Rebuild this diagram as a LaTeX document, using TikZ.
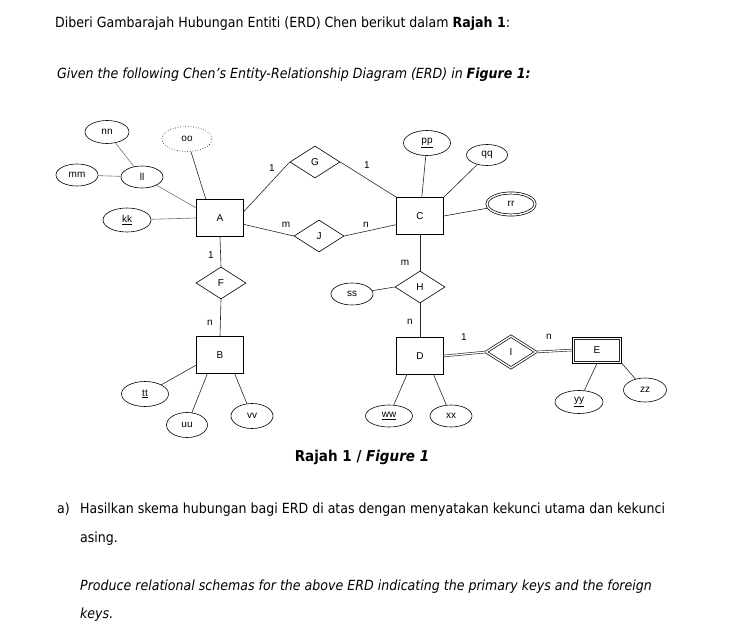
\documentclass[tikz,border=0pt]{standalone}
\usepackage{fontspec}
\setmainfont[FakeStretch=0.9]{DejaVu Sans}
\newfontfamily\erdfont{Liberation Sans}
\usetikzlibrary{shapes.geometric}

\begin{document}
\begin{tikzpicture}[
            x=1pt, y=-1pt,
            entitybox/.style={
                draw,
                line width=0.6pt,
                minimum width=47pt,
                minimum height=37pt,
                inner sep=0pt,
                font=\erdfont\fontsize{10}{11}\selectfont
            },
            weakbox/.style={
                entitybox,
                minimum width=49pt,
                minimum height=26pt
            },
            relbox/.style={
                entitybox,
                diamond,
                minimum width=50pt,
                minimum height=32pt
            },
            weakrel/.style={
                relbox,
                double,
                line width=0.7pt,
                double distance=1.4pt
            },
            attrib/.style={
                entitybox,
                ellipse,
                minimum width=44pt,
                minimum height=23pt
            },
            card/.style={
                inner sep=1pt,
                font=\erdfont\fontsize{10}{11}\selectfont
            },
            link/.style={
                draw=black!85,
                line width=0.6pt
            },
            textline/.style={
                anchor=base west,
                inner sep=0pt,
                font=\fontsize{14}{16}\selectfont
            }
        ]

        \useasboundingbox (0,0) rectangle (741,628);

        % --- Question text ---
        \node[textline] (intro) at (55,28)
            {Diberi Gambarajah Hubungan Entiti (ERD) Chen berikut dalam \textbf{Rajah 1}:};
        \node[textline] (introen) at (57,79)
            {\textit{Given the following Chen's Entity-Relationship Diagram (ERD) in \textbf{Figure 1:}}};

        % --- Entities ---
        \node[entitybox] (A) at (220,218) {A};
        \node[entitybox] (B) at (220,355) {B};
        \node[entitybox] (C) at (420,216) {C};
        \node[entitybox] (D) at (420,356) {D};
        \node[weakbox] (E) at (597,350) {E};
        \draw[link] ([xshift=2.2pt,yshift=-2.2pt]E.north west)
            rectangle ([xshift=-2.2pt,yshift=2.2pt]E.south east);

        % --- Relationships ---
        \node[relbox] (G) at (315,162) {G};
        \node[relbox] (J) at (319,236) {J};
        \node[relbox] (F) at (221,283) {F};
        \node[relbox] (H) at (420,287) {H};
        \node[weakrel] (I) at (511,352) {I};

        % --- Attributes ---
        \node[attrib] (nn) at (107,132) {nn};
        \node[attrib, dotted, minimum width=50pt, minimum height=25pt] (oo) at (187,139) {oo};
        \node[attrib, minimum width=42pt, minimum height=22pt] (mm) at (77,175) {mm};
        \node[attrib, minimum width=42pt, minimum height=22pt] (ll) at (142,177) {ll};
        \node[attrib, minimum width=48pt, minimum height=24pt] (kk) at (127,220) {\underline{kk}};
        \node[attrib, minimum width=47pt, minimum height=25pt] (pp) at (427,143) {\underline{pp}};
        \node[attrib, minimum width=41pt, minimum height=21pt] (qq) at (487,155) {qq};
        \node[attrib, double, line width=0.7pt, double distance=1.4pt,
            minimum width=48pt, minimum height=22pt] (rr) at (511,204) {rr};
        \node[attrib, minimum width=42pt, minimum height=22pt] (ss) at (352,294) {ss};
        \node[attrib, minimum width=47pt, minimum height=25pt] (tt) at (145,394) {\underline{tt}};
        \node[attrib, minimum width=41pt, minimum height=25pt] (uu) at (187,425) {uu};
        \node[attrib, minimum width=42pt, minimum height=25pt] (vv) at (252,416) {vv};
        \node[attrib, minimum width=47pt, minimum height=22pt] (ww) at (389,416) {\underline{ww}};
        \node[attrib, minimum width=42pt, minimum height=22pt] (xx) at (451,416) {xx};
        \node[attrib, minimum width=48pt, minimum height=23pt] (yy) at (579,402) {\underline{yy}};
        \node[attrib, minimum width=43pt, minimum height=24pt] (zz) at (645,390) {zz};

        % --- Connectors ---
        \draw[link, draw=black!55] (nn) -- (ll);
        \draw[link, draw=black!55] (mm) -- (ll);
        \draw[link, draw=black!55] (ll) -- (A.157);
        \draw[link, draw=black!55] (kk) -- (A.west);
        \draw[link] (oo) -- (A.127);

        \draw[link] (A.15) -- (G.west);
        \draw[link] (G.east) -- (C.north west);
        \draw[link] (A.-15) -- (J.west);
        \draw[link] (J.east) -- (C.-160);
        \draw[link] (A.south) -- (F.north);
        \draw[link] (F.south) -- (B.north);

        \draw[link] (tt) -- (B.203);
        \draw[link] (uu) -- (B.236);
        \draw[link] (vv) -- (B.-52);

        \draw[link] (pp) -- (C);
        \draw[link] (qq) -- (C.north east);
        \draw[link] (rr) -- (C.east);
        \draw[link] (C.south) -- (H.north);
        \draw[link] (ss) -- (H.west);
        \draw[link] (H.south) -- (D.north);

        \draw[link] (ww) -- (D.235);
        \draw[link] (xx) -- (D.-54);
        \draw[link, double, line width=0.6pt, double distance=1.2pt] (D.east) -- (I.west);
        \draw[link, double, line width=0.6pt, double distance=1.2pt] (I.east) -- (E.west);
        \draw[link] (yy) -- (E.south);
        \draw[link] (zz) -- (E.south east);

        % --- Cardinalities ---
        \node[card] (cAG) at (272,168) {1};
        \node[card] (cGC) at (367,165) {1};
        \node[card] (cAJ) at (286,225) {m};
        \node[card] (cJC) at (366,225) {n};
        \node[card] (cAF) at (211,255) {1};
        \node[card] (cFB) at (210,323) {n};
        \node[card] (cCH) at (405,263) {m};
        \node[card] (cHD) at (410,322) {n};
        \node[card] (cDI) at (464,337) {1};
        \node[card] (cIE) at (549,337) {n};

        % --- Caption and question ---
        \node[textline, anchor=base, font=\fontsize{15}{17}\selectfont] (caption) at (362,461)
            {\textbf{Rajah 1 / \textit{Figure 1}}};
        \node[textline] (qa) at (57,513) {a)};
        \node[textline] (qms) at (80,513)
            {Hasilkan skema hubungan bagi ERD di atas dengan menyatakan kekunci utama dan kekunci};
        \node[textline] (qms2) at (80,542) {asing.};
        \node[textline] (qen) at (80,590)
            {\textit{Produce relational schemas for the above ERD indicating the primary keys and the foreign}};
        \node[textline] (qen2) at (80,618) {\textit{keys.}};

        \end{tikzpicture}
\end{document}
